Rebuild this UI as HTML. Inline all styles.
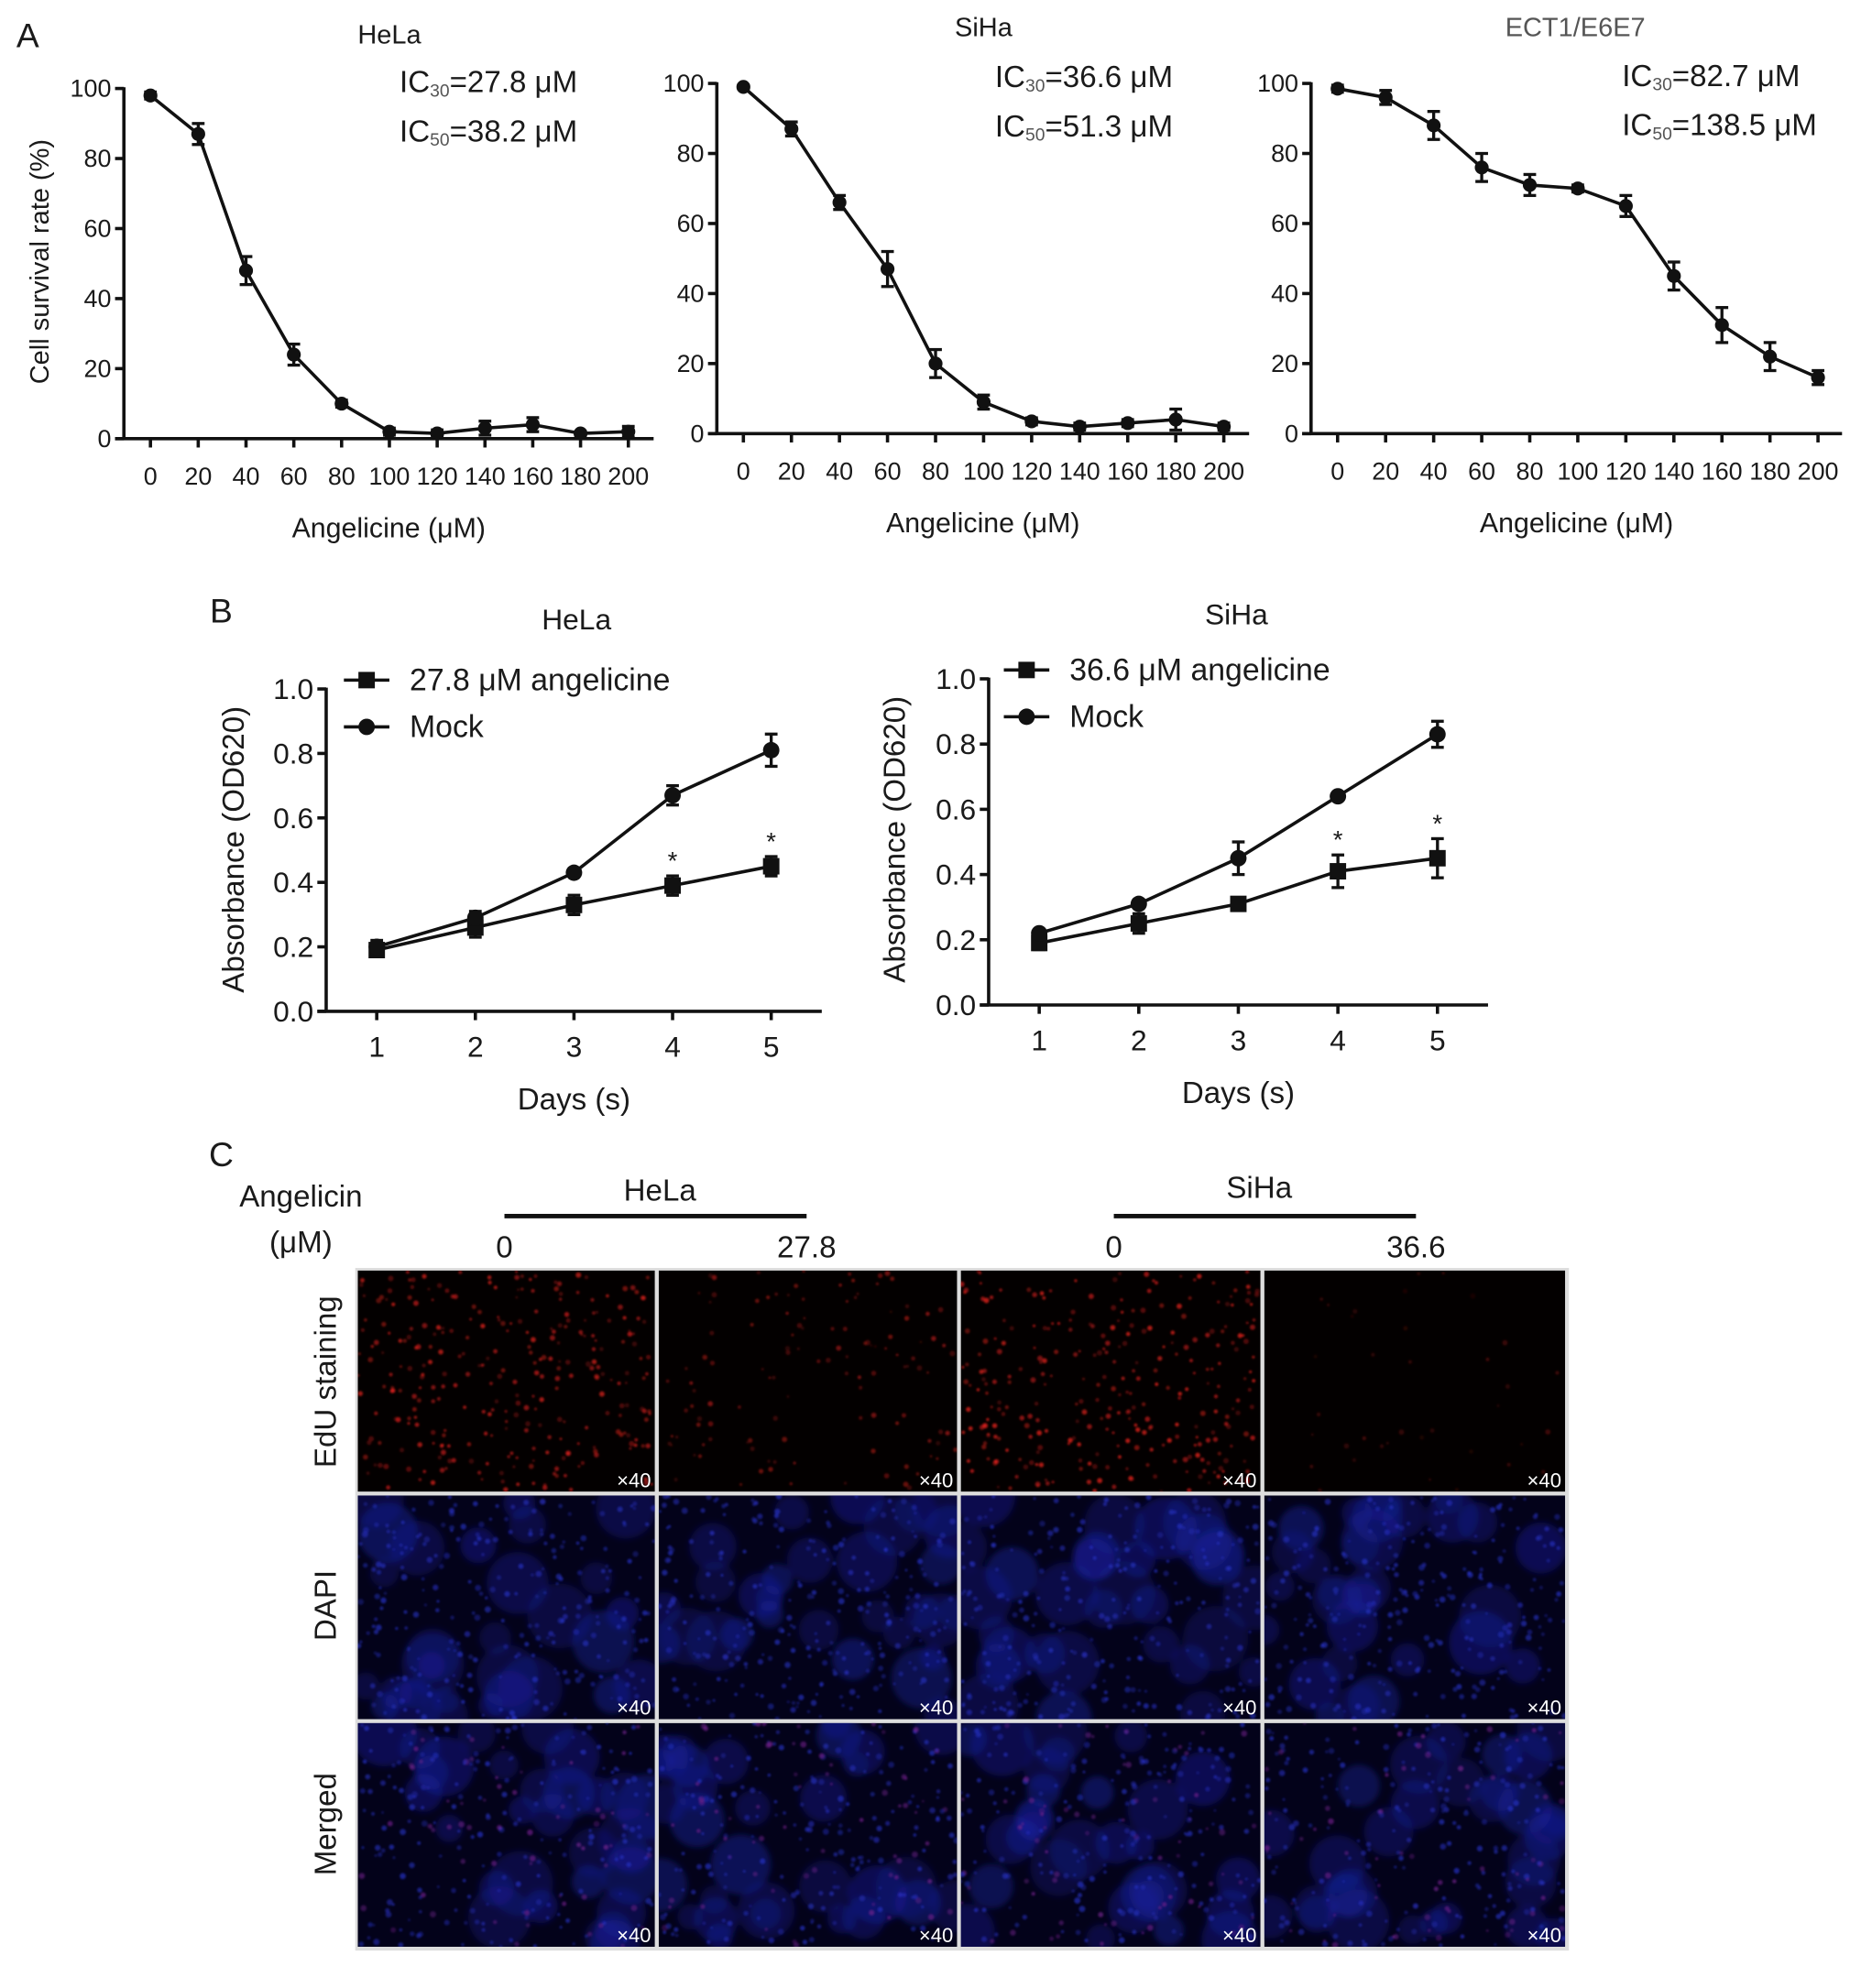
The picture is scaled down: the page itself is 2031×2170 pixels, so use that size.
<!DOCTYPE html>
<html><head><meta charset="utf-8"><style>
html,body{margin:0;padding:0;background:#fff}
svg{display:block}
text{font-family:"Liberation Sans",Arial,sans-serif}
</style></head><body>
<svg id="fig" width="2031" height="2170" viewBox="0 0 1472 1572.6" preserveAspectRatio="none" xmlns="http://www.w3.org/2000/svg">
<defs id="defs">
<filter id="blur1"><feGaussianBlur stdDeviation="0.7"/></filter>
<filter id="blur2"><feGaussianBlur stdDeviation="2.5"/></filter>
</defs>
<g id="root" fill="#1a1a1a"></g>
</svg>
<script>
// ---- Panel A data ----
const doses = [0,20,40,60,80,100,120,140,160,180,200];
const doseTicks = ["0","20","40","60","80","100","120","140","160","180","200"];
const survTicks = [0,20,40,60,80,100];
const helaSurv = [98,87,48,24,10,2,1.5,3,4,1.5,2];
const helaSurvErr = [1,3,4,3,1,1,1,2,2,0.5,1.5];
const sihaSurv = [99,87,66,47,20,9,3.5,2,3,4,2];
const sihaSurvErr = [0.5,2,2,5,4,2,1,1,1,3,1];
const ectSurv = [98.5,96,88,76,71,70,65,45,31,22,16];
const ectSurvErr = [1,2,4,4,3,1,3,4,5,4,2];
// ---- Panel B data ----
const days = [1,2,3,4,5];
const absTicks = [0,0.2,0.4,0.6,0.8,1.0];
const helaAng = [0.19,0.26,0.33,0.39,0.45];
const helaAngErr = [0.02,0.03,0.03,0.03,0.03];
const helaMock = [0.20,0.29,0.43,0.67,0.81];
const helaMockErr = [0.02,0.02,0.01,0.03,0.05];
const sihaAng = [0.19,0.25,0.31,0.41,0.45];
const sihaAngErr = [0.02,0.03,0.01,0.05,0.06];
const sihaMock = [0.22,0.31,0.45,0.64,0.83];
const sihaMockErr = [0.01,0.01,0.05,0.01,0.04];
const starDays = [4,5];

const NS="http://www.w3.org/2000/svg";
const root=document.getElementById('root');
const defs=document.getElementById('defs');
function el(tag,attrs,parent,txt){const e=document.createElementNS(NS,tag);for(const k in attrs)e.setAttribute(k,attrs[k]);if(txt!==undefined)e.textContent=txt;(parent||root).appendChild(e);return e;}
function txt(x,y,s,size,anchor,parent,extra){return el('text',Object.assign({x:x,y:y,'font-size':size,'text-anchor':anchor||'middle','dominant-baseline':'central'},extra||{}),parent,s);}

function lineChart(cfg){
  const g=el('g',{});  
  const xs=v=>cfg.x0+(v-cfg.xmin)/(cfg.xmax-cfg.xmin)*(cfg.x1-cfg.x0);
  const ys=v=>cfg.y0+(v-cfg.ymin)/(cfg.ymax-cfg.ymin)*(cfg.y1-cfg.y0);
  const ax=el('g',{stroke:'#111','stroke-width':2.6,fill:'none'},g);
   
  el('line',{x1:cfg.ax,y1:ys(cfg.ymax)-1,x2:cfg.ax,y2:cfg.y0},ax);
  el('line',{x1:cfg.ax-7,y1:cfg.y0,x2:cfg.axEnd,y2:cfg.y0},ax);
  cfg.yticks.forEach(v=>{el('line',{x1:cfg.ax-7,y1:ys(v),x2:cfg.ax,y2:ys(v)},ax);
    const t=txt(cfg.ax-10,ys(v),cfg.yfmt(v),cfg.tickSize,'end',g);  });
  cfg.xvals.forEach((v,i)=>{el('line',{x1:xs(v),y1:cfg.y0,x2:xs(v),y2:cfg.y0+7},ax);
    const t=txt(xs(v),cfg.xLabY,cfg.xlabels[i],cfg.tickSize,'middle',g);  });
  cfg.series.forEach(s=>{
    const sg=el('g',{},g);  
    const pts=s.vals.map((v,i)=>xs(cfg.xvals[i])+','+ys(v)).join(' ');
    el('polyline',{points:pts,fill:'none',stroke:'#111','stroke-width':2.6},sg);
    s.vals.forEach((v,i)=>{const x=xs(cfg.xvals[i]);const e=s.err[i];
      const eg=el('g',{stroke:'#111','stroke-width':2.4},sg);
      el('line',{x1:x,y1:ys(v+e),x2:x,y2:ys(v-e)},eg);
      el('line',{x1:x-5,y1:ys(v+e),x2:x+5,y2:ys(v+e)},eg);
      el('line',{x1:x-5,y1:ys(v-e),x2:x+5,y2:ys(v-e)},eg);
      let m;
      if(s.marker==='sq'){m=el('rect',{x:x-cfg.ms,y:ys(v)-cfg.ms,width:2*cfg.ms,height:2*cfg.ms,fill:'#111'},sg);}
      else{m=el('circle',{cx:x,cy:ys(v),r:cfg.ms,fill:'#111'},sg);}
       
    });
    if(s.stars){s.stars.forEach(d=>{const i=cfg.xvals.indexOf(d);const v=s.vals[i]+s.err[i];
      const t=txt(xs(d),ys(v)-12,'*',20,'middle',sg);  });}
  });
  return {g:g,xs:xs,ys:ys};
}
function ic(x,y,sub,val,g){
  const t=el('text',{x:x,y:y,'font-size':24,'dominant-baseline':'central'},g);
   
  el('tspan',{},t,'IC');
  el('tspan',{'font-size':14,dy:7,style:'fill:#555'},t,sub);
  el('tspan',{dy:-7},t,'='+val+' μM');
}
const survFmt=v=>String(v);
// ---- Panel A ----
let t=txt(22,28,'A',27,'middle');  
const aCfgs=[
 {name:'hela-survival-chart',ax:98,axEnd:517,x0:119,x1:497,y0:347,y1:70,series:[{name:'hela-survival-series',vals:helaSurv,err:helaSurvErr,marker:'ci'}],title:'HeLa',tx:308,ty:28,icx:316,icy:65,ic30:'27.8',ic50:'38.2'},
 {name:'siha-survival-chart',ax:567,axEnd:988,x0:588,x1:968,y0:343,y1:66,series:[{name:'siha-survival-series',vals:sihaSurv,err:sihaSurvErr,marker:'ci'}],title:'SiHa',tx:778,ty:22,icx:787,icy:61,ic30:'36.6',ic50:'51.3'},
 {name:'ect-survival-chart',ax:1037,axEnd:1457,x0:1058,x1:1438,y0:343,y1:66,series:[{name:'ect-survival-series',vals:ectSurv,err:ectSurvErr,marker:'ci'}],title:'ECT1/E6E7',tx:1246,ty:22,icx:1283,icy:60,ic30:'82.7',ic50:'138.5'}
];
aCfgs.forEach((c,k)=>{
  Object.assign(c,{xmin:0,xmax:200,ymin:0,ymax:100,yticks:survTicks,yfmt:survFmt,xvals:doses,xlabels:doseTicks,tickSize:19.5,xLabY:c.y0+30,ms:5.5});
  const r=lineChart(c);
  const tt=txt(c.tx,c.ty,c.title,21,'middle',r.g,k===2?{style:'fill:#555'}:{});  
  ic(c.icx,c.icy,'30',c.ic30,r.g); ic(c.icx,c.icy+39,'50',c.ic50,r.g);
  const xt=txt((c.ax+c.axEnd)/2,c.y0+71,'Angelicine (μM)',22,'middle',r.g);  
});
t=txt(32,207,'Cell survival rate (%)',21,'middle',null,{transform:'rotate(-90 32 207)'});  
// ---- Panel B ----
t=txt(175,483,'B',27,'middle');  
const absFmt=v=>v.toFixed(1);
const bCfgs=[
 {name:'hela-absorbance-chart',ax:258,axEnd:650,x0:298,x1:610,y0:800,y1:545,title:'HeLa',tx:456,ty:490,lx:290,ly:538,ylx:185,yly:672,dose:'27.8',
  series:[{name:'hela-angelicine-series',vals:helaAng,err:helaAngErr,marker:'sq',stars:starDays},{name:'hela-mock-series',vals:helaMock,err:helaMockErr,marker:'ci'}]},
 {name:'siha-absorbance-chart',ax:782,axEnd:1177,x0:822,x1:1137,y0:795,y1:537,title:'SiHa',tx:978,ty:486,lx:812,ly:530,ylx:708,yly:664,dose:'36.6',
  series:[{name:'siha-angelicine-series',vals:sihaAng,err:sihaAngErr,marker:'sq',stars:starDays},{name:'siha-mock-series',vals:sihaMock,err:sihaMockErr,marker:'ci'}]}
];
bCfgs.forEach(c=>{
  Object.assign(c,{xmin:1,xmax:5,ymin:0,ymax:1,yticks:absTicks,yfmt:absFmt,xvals:days,xlabels:days.map(String),tickSize:23,xLabY:c.y0+28,ms:6.5});
  const r=lineChart(c);
  const tt=txt(c.tx,c.ty,c.title,23,'middle',r.g);  
  const lg=el('g',{},r.g);  
  const e1=el('g',{},lg);  
  el('line',{x1:c.lx-18,y1:c.ly,x2:c.lx+18,y2:c.ly,stroke:'#111','stroke-width':2.6},e1);
  el('rect',{x:c.lx-6.5,y:c.ly-6.5,width:13,height:13,fill:'#111'},e1);
  txt(c.lx+34,c.ly,c.dose+' μM angelicine',24.5,'start',e1);
  const e2=el('g',{},lg);  
  el('line',{x1:c.lx-18,y1:c.ly+37,x2:c.lx+18,y2:c.ly+37,stroke:'#111','stroke-width':2.6},e2);
  el('circle',{cx:c.lx,cy:c.ly+37,r:6.5,fill:'#111'},e2);
  txt(c.lx+34,c.ly+37,'Mock',24.5,'start',e2);
  const xt=txt((c.x0+c.x1)/2,c.y0+70,'Days (s)',24,'middle',r.g);  
  const yt=txt(c.ylx,c.yly,'Absorbance (OD620)',24,'middle',r.g,{transform:'rotate(-90 '+c.ylx+' '+c.yly+')'});  
});
// ---- Panel C ----
t=txt(175,913,'C',27,'middle');  
t=txt(238,947,'Angelicin',24,'middle');  
t=txt(238,983,'(μM)',24,'middle');  
[[522,942,399,638,'HeLa','27.8'],[996,940,881,1120,'SiHa','36.6']].forEach(a=>{
  const g=el('g',{});  
  txt(a[0],a[1],a[4],24,'middle',g);
  el('line',{x1:a[2],y1:962,x2:a[3],y2:962,stroke:'#111','stroke-width':3.5},g);
  txt(a[2],987,'0',24,'middle',g); txt(a[3],987,a[5],24,'middle',g);
});
const cols=[[283,518],[521,757],[760,997],[1000,1238]];
const rows=[[1005,1180],[1183,1360],[1363,1540]];
const rowNames=['EdU staining','DAPI','Merged'];
const rowC=[1093,1270,1443];
rowNames.forEach((n,i)=>{const tt=txt(258,rowC[i],n,24,'middle',null,{transform:'rotate(-90 258 '+rowC[i]+')'});  });
let seed=12345;function rnd(){seed=(seed*1103515245+12345)%2147483648;return seed/2147483648;}
const redDensity=[1,0.4,1,0.12];
const redAlpha=[0.75,0.55,0.8,0.3];
el('rect',{x:281,y:1003,width:960,height:540,fill:'#ddd'});
let pid=0;
rows.forEach((r,ri)=>{cols.forEach((c,ci)=>{
  const w=c[1]-c[0],h=r[1]-r[0];
  const cp=el('clipPath',{id:'cp'+pid},defs); el('rect',{x:c[0],y:r[0],width:w,height:h},cp);
  const g=el('g',{'clip-path':'url(#cp'+pid+')'}); pid++;
   
  el('rect',{x:c[0],y:r[0],width:w,height:h,fill:ri===0?'#030000':'#03021a'},g);
  if(ri===0){const cg=el('g',{filter:'url(#blur1)'},g);const n=Math.round(300*redDensity[ci]);
    for(let k=0;k<n;k++){const cx=c[0]+rnd()*w,cy=r[0]+rnd()*h;const a=(0.3+rnd()*0.7)*redAlpha[ci];
      el('circle',{cx:cx,cy:cy,r:1+rnd()*1.2,fill:'#e0201c','fill-opacity':a},cg);}
  } else {
    const bg=el('g',{filter:'url(#blur2)'},g);
    for(let k=0;k<30;k++){const cx=c[0]+rnd()*w,cy=r[0]+rnd()*h;
      el('circle',{cx:cx,cy:cy,r:10+rnd()*16,fill:'#1820a0','fill-opacity':0.25+rnd()*0.2},bg);}
    const cg=el('g',{filter:'url(#blur1)'},g);
    for(let k=0;k<260;k++){const cx=c[0]+rnd()*w,cy=r[0]+rnd()*h;
      el('circle',{cx:cx,cy:cy,r:1+rnd()*1.5,fill:(ri===2&&rnd()<0.25)?'#70208a':'#2630c0','fill-opacity':0.35+rnd()*0.35},cg);}
  }
});});
rows.forEach(r=>{cols.forEach(c=>{
  const m=txt(c[1]-3,r[1]-9,'×40',16,'end',null,{style:'fill:#ffffff'});  
});});
</script>
</body></html>
